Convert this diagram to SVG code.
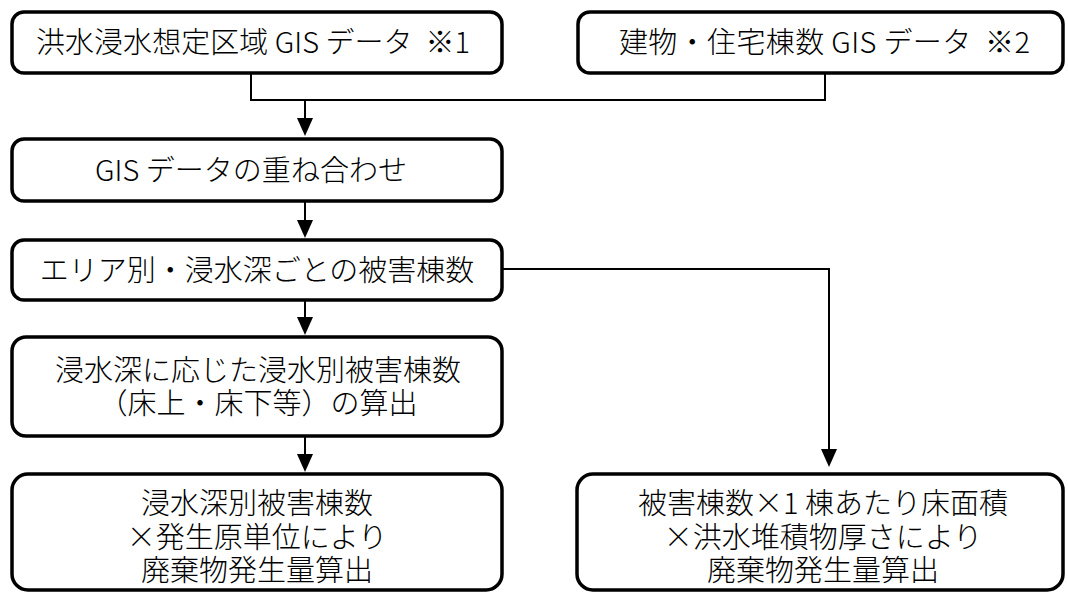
<svg xmlns="http://www.w3.org/2000/svg" width="1068" height="592" viewBox="0 0 1068 592">
<style>
.box{fill:#fff;stroke:#000;stroke-width:3.5}
.t{font-family:"Noto Sans CJK JP","Noto Sans",sans-serif;font-size:29px;font-weight:300;fill:#000;text-anchor:middle}
.s{text-anchor:start}
.c{fill:none;stroke:#000;stroke-width:2}
</style>
<rect width="1068" height="592" fill="#fff"/>
<g id="connectors">
<path class="c" d="M251,73 V100 H825 V73"/>
<path class="c" d="M305,100 V120"/>
<path class="c" d="M305,202 V222"/>
<path class="c" d="M305,300 V320"/>
<path class="c" d="M305,436 V456"/>
<path class="c" d="M503,269 H829 V452"/>
<path d="M297,118 L313,118 L305,136 Z"/>
<path d="M297,220 L313,220 L305,238 Z"/>
<path d="M297,317 L313,317 L305,335 Z"/>
<path d="M297,454 L313,454 L305,472 Z"/>
<path d="M821,449 L837,449 L829,467 Z"/>
</g>
<g id="n1">
<rect class="box" x="12" y="12" width="490" height="61" rx="12"/>
<text class="t s" x="36" y="53" font-size="28" textLength="434" lengthAdjust="spacing" xml:space="preserve">洪水浸水想定区域 GIS データ  ※1</text>
</g>
<g id="n2">
<rect class="box" x="578" y="12" width="485" height="61" rx="12"/>
<text class="t s" x="619" y="53" font-size="28" textLength="411" lengthAdjust="spacing" xml:space="preserve">建物・住宅棟数 GIS データ  ※2</text>
</g>
<g id="n3">
<rect class="box" x="12" y="139" width="490" height="62" rx="12"/>
<text class="t s" x="95" y="181" textLength="312" lengthAdjust="spacing">GIS データの重ね合わせ</text>
</g>
<g id="n4">
<rect class="box" x="12" y="240" width="490" height="60" rx="12"/>
<text class="t" x="257" y="281">エリア別・浸水深ごとの被害棟数</text>
</g>
<g id="n5">
<rect class="box" x="12" y="337" width="490" height="99" rx="14"/>
<text class="t" x="258" y="381">浸水深に応じた浸水別被害棟数</text>
<text class="t" x="258" y="414">（床上・床下等）の算出</text>
</g>
<g id="n6">
<rect class="box" x="12" y="474" width="490" height="116" rx="16"/>
<text class="t" x="257" y="514">浸水深別被害棟数</text>
<text class="t" x="257" y="548">×発生原単位により</text>
<text class="t" x="257" y="581">廃棄物発生量算出</text>
</g>
<g id="n7">
<rect class="box" x="577" y="474" width="486" height="116" rx="16"/>
<text class="t" x="823" y="514">被害棟数×1 棟あたり床面積</text>
<text class="t" x="823" y="548">×洪水堆積物厚さにより</text>
<text class="t" x="823" y="581">廃棄物発生量算出</text>
</g>
</svg>
